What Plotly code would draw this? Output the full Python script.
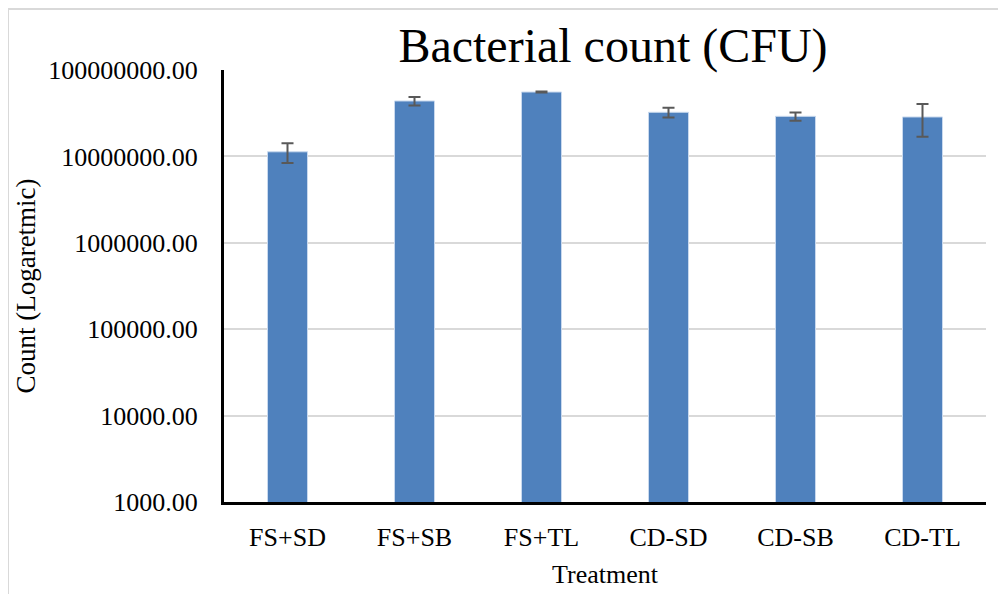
import plotly.graph_objects as go

categories = ["FS+SD", "FS+SB", "FS+TL", "CD-SD", "CD-SB", "CD-TL"]
counts = [1.13e7, 4.38e7, 5.56e7, 3.24e7, 2.91e7, 2.86e7]
errors = [2.9e6, 5.0e6, 8.0e5, 4.2e6, 3.2e6, 1.17e7]
tick_values = [1e3, 1e4, 1e5, 1e6, 1e7, 1e8]
tick_labels = ["1000.00", "10000.00", "100000.00", "1000000.00", "10000000.00", "100000000.00"]

FONT = "Liberation Serif, Times New Roman, serif"

fig = go.Figure()
fig.add_trace(go.Bar(
    x=categories, y=counts,
    marker=dict(color="#4F81BD", line=dict(color="#c9d9ee", width=1)),
    error_y=dict(type="data", array=errors, visible=True, color="#595959",
                 thickness=2, width=6),
))

# page has an 8px body margin, so figure is sized/offset accordingly
OFF = 8
W, H = 1006 - OFF, 594 - OFF
L, T = 224 - OFF, 70 - OFF
pw, ph = 762, 432
R = W - L - pw
B = H - T - ph

fig.update_layout(
    width=W, height=H,
    margin=dict(l=L, r=R, t=T, b=B),
    paper_bgcolor="white", plot_bgcolor="white",
    bargap=0.685,
    showlegend=False,
    font=dict(family=FONT, size=25, color="black"),
    title=dict(text="Bacterial count (CFU)", font=dict(family=FONT, size=48, color="black"),
               x=(613 - OFF) / W, xanchor="center",
               y=1 - (45 - OFF) / H, yanchor="middle"),
    xaxis=dict(
        showline=True, linecolor="black", linewidth=3,
        showgrid=False, ticks="", ticklabelstandoff=10,
        tickfont=dict(size=26),
        title=dict(text="Treatment", font=dict(size=26), standoff=14),
        automargin=False,
    ),
    yaxis=dict(
        type="log", range=[3, 8],
        tickvals=tick_values, ticktext=tick_labels,
        showline=True, linecolor="black", linewidth=3,
        showgrid=True, gridcolor="#d9d9d9", gridwidth=1.5,
        ticks="", ticklabelstandoff=18,
        tickfont=dict(size=26),
        title=dict(text="Count (Logaretmic)", font=dict(size=27), standoff=5),
        automargin=False, zeroline=False,
    ),
)

# chart-area border (light gray, top and left)
bx = (8 - OFF - L) / pw
by = (H - B - (9 - OFF)) / ph
fig.add_shape(type="line", xref="paper", yref="paper", x0=bx, x1=(W - L) / pw + 0.01,
              y0=by, y1=by, line=dict(color="#d9d9d9", width=2))
fig.add_shape(type="line", xref="paper", yref="paper", x0=bx, x1=bx,
              y0=by, y1=-(B + 5) / ph, line=dict(color="#d9d9d9", width=2))

fig.write_html("out.html")
